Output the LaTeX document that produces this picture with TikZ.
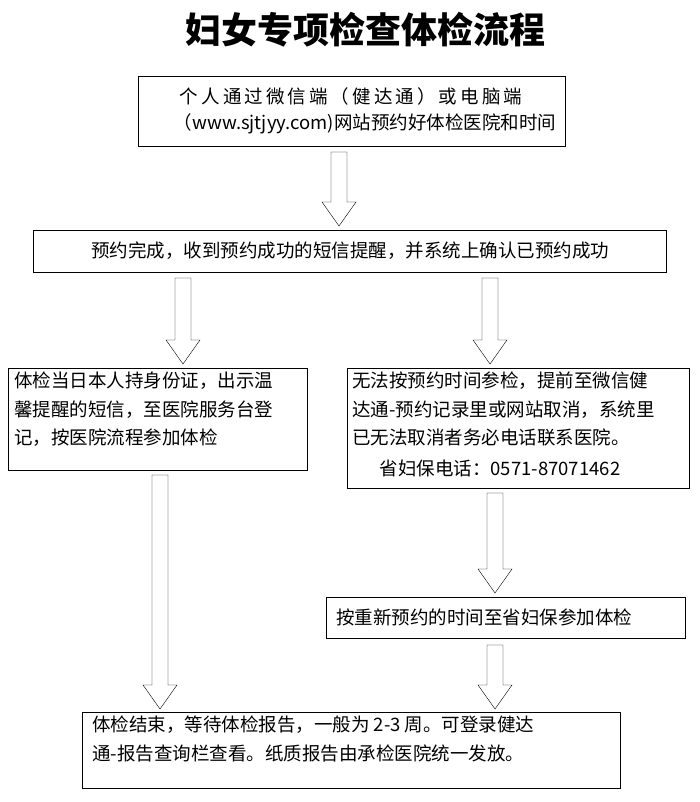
\documentclass[tikz,border=0pt]{standalone}
\usepackage{fontspec}
\newfontfamily\cjk{Noto Sans CJK SC}
\usetikzlibrary{positioning,calc}

% hollow block arrow: x, top y, bottom y
\newcommand{\hollowarrow}[3]{%
  \draw[thin] (#1-8,#2) -- (#1+8,#2) -- (#1+8,#3-24) -- (#1+17,#3-24)
    -- (#1,#3) -- (#1-17,#3-24) -- (#1-8,#3-24) -- cycle;}

\begin{document}
\begin{tikzpicture}
	[x=1pt, y=-1pt,
	every node/.style={font=\cjk\fontsize{18.5}{28.5}\selectfont, inner sep=0pt},
	]
	\useasboundingbox (0,0) rectangle (699,802);

	\node (title) at (365,30) {\cjk\fontsize{36}{40}\selectfont\bfseries 妇女专项检查体检流程};

	% boxes
	\draw (138,76) rectangle (565,146);
	\node (b1a) at (351,96) {个\,人\,通\,过\,微\,信\,端\,（\,健\,达\,通\,）\,或\,电\,脑\,端};
	\node (b1b) at (365,124) {（www.sjtjyy.com)网站预约好体检医院和时间};

	\draw (33,230) rectangle (666,272);
	\node (b2) at (350,251) {预约完成，收到预约成功的短信提醒，并系统上确认已预约成功};

	\draw (8,368) rectangle (307,470);
	\node[align=left, anchor=north west] (b3) at (14,372)
	  {体检当日本人持身份证，出示温\\馨提醒的短信，至医院服务台登\\记，按医院流程参加体检};

	\draw (347,368) rectangle (689,488);
	\node[align=left, anchor=north west] (b4) at (352,372)
	  {无法按预约时间参检，提前至微信健\\达通-预约记录里或网站取消，系统里\\已无法取消者务必电话联系医院。};
	\node (b4tel) at (500,468) {省妇保电话：0571-87071462};

	\draw (326,597) rectangle (685,638);
	\node (b5) at (484,617) {按重新预约的时间至省妇保参加体检};

	\draw (82,712) rectangle (620,788);
	\node[align=left, anchor=north west] (b6) at (92,716)
	  {体检结束，等待体检报告，一般为 2-3 周。可登录健达\\通-报告查询栏查看。纸质报告由承检医院统一发放。};

	% arrows
	\hollowarrow{339}{152}{226}
	\hollowarrow{183}{278}{364}
	\hollowarrow{490}{278}{364}
	\hollowarrow{160}{475}{709}
	\hollowarrow{495}{493}{593}
	\hollowarrow{495}{645}{709}
\end{tikzpicture}
\end{document}
